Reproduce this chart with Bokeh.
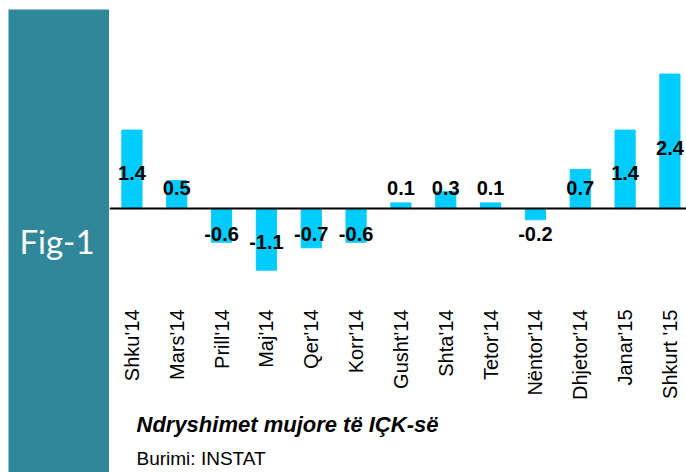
import math
from bokeh.plotting import figure
from bokeh.layouts import row
from bokeh.models import Range1d, Span, Label, ColumnDataSource, FixedTicker, Title
from bokeh.core.properties import value
from bokeh.embed import file_html
from bokeh.resources import INLINE

months = ["Shku'14", "Mars'14", "Prill'14", "Maj'14", "Qer'14", "Korr'14",
          "Gusht'14", "Shta'14", "Tetor'14", "Nëntor'14", "Dhjetor'14",
          "Janar'15", "Shkurt '15"]
changes = [1.4, 0.5, -0.6, -1.1, -0.7, -0.6, 0.1, 0.3, 0.1, -0.2, 0.7, 1.4, 2.4]
title_text = "Ndryshimet mujore të IÇK-së"
source_text = "Burimi: INSTAT"
fig_label = "Fig-1"

TEAL = "#31879A"
CYAN = "#00CCFF"
FONT = "Liberation Sans"

# left teal panel
panel = figure(width=109, height=472, x_range=Range1d(0, 1), y_range=Range1d(0, 1),
               output_backend="svg", toolbar_location=None,
               min_border_left=8, min_border_right=0, min_border_top=9, min_border_bottom=0,
               background_fill_color=TEAL, border_fill_color="white",
               outline_line_color=None, x_axis_location=None, y_axis_location=None)
panel.grid.visible = False
panel.add_layout(Label(x=0.48, y=0.5, text=fig_label, text_font="Lato",
                       text_font_size="33px", text_color="white",
                       text_align="center", text_baseline="middle"))

# chart
xs = list(range(len(months)))
lab_y = [max(0.45 * v, 0.36) if v >= 0 else min(0.55 * v, -0.45) for v in changes]
src = ColumnDataSource(dict(x=xs, v=changes, ly=lab_y,
                            lt=[f"{v:.1f}" for v in changes]))

p = figure(width=577, height=472, x_range=Range1d(-0.5, 12.37), y_range=Range1d(-1.73, 3.57),
           output_backend="svg", toolbar_location=None,
           min_border_left=0, min_border_right=0, min_border_top=8, min_border_bottom=167,
           outline_line_color=None, y_axis_location=None)
p.grid.visible = False

for fig in (panel, p):
    try:
        fig.frame_align = False
    except Exception:
        pass

p.vbar(x="x", top="v", bottom=0, width=0.45, color=CYAN, source=src)
p.add_layout(Span(location=0, dimension="width", line_color="black", line_width=2))
p.text(x="x", y="ly", text="lt", source=src, text_font=value(FONT),
       text_font_style="bold", text_font_size="20px", text_color="black",
       text_align="center", text_baseline="middle")

ax = p.xaxis[0]
ax.ticker = FixedTicker(ticks=xs)
ax.major_label_overrides = {i: m for i, m in enumerate(months)}
ax.major_label_orientation = math.pi / 2
ax.axis_line_color = None
ax.major_tick_line_color = None
ax.minor_tick_line_color = None
ax.major_tick_out = 0
ax.major_tick_in = 0
ax.major_label_standoff = 4
ax.major_label_text_font = FONT
ax.major_label_text_font_size = "20px"
ax.major_label_text_color = "black"

p.add_layout(Title(text=title_text, align="left", offset=27, standoff=12,
                   text_font=FONT, text_font_style="bold italic",
                   text_font_size="22px", text_color="black"), "below")
p.add_layout(Title(text=source_text, align="left", offset=27, standoff=7,
                   text_font=FONT, text_font_style="normal",
                   text_font_size="19px", text_color="black"), "below")

layout = row(panel, p, spacing=0)
open("out.html", "w").write(file_html(layout, INLINE))
